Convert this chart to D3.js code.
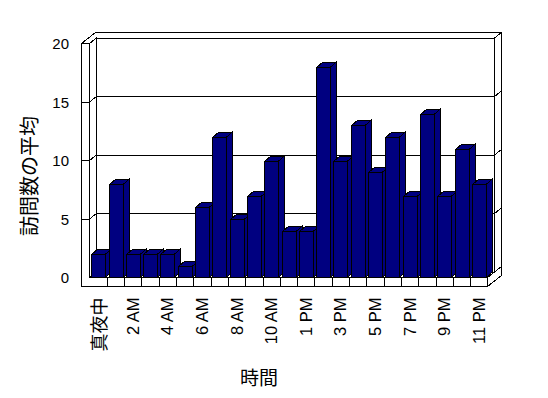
<!DOCTYPE html>
<html>
<head>
<meta charset="utf-8">
<script src="https://cdn.jsdelivr.net/npm/d3@7/dist/d3.min.js"></script>
<style>
	html, body { margin: 0; padding: 0; background: #fff; }
	svg { display: block; }
</style>
</head>
<body>
<div id="chart"></div>
<script>
	'use strict';

	////////// Data //////////
	const categories = ['真夜中', '1 AM', '2 AM', '3 AM', '4 AM', '5 AM', '6 AM', '7 AM', '8 AM', '9 AM', '10 AM', '11 AM',
		'1 PM', '2 PM', '3 PM', '4 PM', '5 PM', '6 PM', '7 PM', '8 PM', '9 PM', '10 PM', '11 PM'];
	const visits = [2, 8, 2, 2, 2, 1, 6, 12, 5, 7, 10, 4, 4, 18, 10, 13, 9, 12, 7, 14, 7, 11, 8];
	const yTicks = [0, 5, 10, 15, 20];
	const yTitle = '訪問数の平均';
	const xTitle = '時間';

	////////// Layout //////////
	const width = 548, height = 398;
	const wallLeft = 81.5;          // outer edge of left wall
	const plotLeft = 89.5, plotRight = 487.5;
	const yZero = 277.5, yMax = 43.5, floorBottom = 286.5;
	const depth = { x: 7, y: -5.5 };     // wall depth offset
	const barDepth = { x: 6.5, y: -5.5 };
	const barFill = '#000080';
	const latinFont = '"Liberation Sans", Arial, sans-serif';
	const cjkFont = '"Noto Sans CJK JP", sans-serif';

	const x = d3.scaleBand().domain(categories).range([plotLeft, plotRight]).padding(0);
	const y = d3.scaleLinear().domain([0, 20]).range([yZero, yMax]);
	const step = x.step();

	const svg = d3.select('#chart').append('svg')
		.attr('width', width)
		.attr('height', height)
		.style('shape-rendering', 'crispEdges');

	const pts = arr => arr.map(p => p.join(',')).join(' ');
	const poly = (g, arr) => g.append('polygon')
		.attr('points', pts(arr))
		.attr('fill', '#fff')
		.attr('stroke', '#000')
		.attr('stroke-width', 1);

	// ********************************* WALLS & FLOOR ********************************* //
	const frame = svg.append('g').attr('class', 'frame');
	const d1 = depth, d2 = { x: depth.x * 2, y: depth.y * 2 };

	// back wall front face
	poly(frame, [[plotLeft + d1.x, yMax + d1.y], [plotRight + d1.x, yMax + d1.y], [plotRight + d1.x, yZero + d1.y], [plotLeft + d1.x, yZero + d1.y]]);
	// floor right face
	poly(frame, [[plotRight, yZero], [plotRight + d2.x, yZero + d2.y], [plotRight + d2.x, floorBottom + d2.y], [plotRight, floorBottom]]);
	// back wall right edge
	poly(frame, [[plotRight + d1.x, yMax + d1.y], [plotRight + d2.x, yMax + d2.y], [plotRight + d2.x, yZero + d2.y], [plotRight + d1.x, yZero + d1.y]]);
	// top of left + back wall
	poly(frame, [[wallLeft, yMax], [wallLeft + d2.x, yMax + d2.y], [plotRight + d2.x, yMax + d2.y], [plotRight + d1.x, yMax + d1.y],
		[plotLeft + d1.x, yMax + d1.y], [plotLeft, yMax]]);
	// left wall inner face
	poly(frame, [[plotLeft, yMax], [plotLeft + d1.x, yMax + d1.y], [plotLeft + d1.x, yZero + d1.y], [plotLeft, yZero]]);
	// floor top face
	poly(frame, [[plotLeft, yZero], [plotRight, yZero], [plotRight + d1.x, yZero + d1.y], [plotLeft + d1.x, yZero + d1.y]]);
	// front L face (left wall edge + floor edge)
	poly(frame, [[wallLeft, yMax], [plotLeft, yMax], [plotLeft, yZero], [plotRight, yZero], [plotRight, floorBottom], [wallLeft, floorBottom]]);

	// gridlines
	const grid = frame.append('g').attr('stroke', '#000').attr('fill', 'none');
	yTicks.filter(v => v > 0 && v < 20).forEach(v => {
		const yy = y(v);
		grid.append('polyline').attr('points', pts([
			[wallLeft, yy], [plotLeft, yy], [plotLeft + d1.x, yy + d1.y], [plotRight + d1.x, yy + d1.y], [plotRight + d2.x, yy + d2.y]
		]));
	});

	// category ticks on floor front face
	categories.slice(1).forEach(c => {
		const xx = Math.round(x(c)) + 0.5;
		grid.append('line').attr('x1', xx).attr('x2', xx).attr('y1', yZero).attr('y2', floorBottom);
	});

	// ********************************* BARS ********************************* //
	const bars = svg.append('g').attr('class', 'bars');
	const bw = step * 0.8;
	categories.forEach((c, i) => {
		const v = visits[i];
		const l = Math.round(x(c) + step * 0.1) + 0.5;
		const r = Math.round(l + bw);
		const t = Math.round(y(v)) + 0.5;
		const b = yZero;
		const g = bars.append('g').attr('fill', barFill).attr('stroke', '#000');
		g.append('polygon').attr('points', pts([[r, t], [r + barDepth.x, t + barDepth.y], [r + barDepth.x, b + barDepth.y], [r, b]]));
		g.append('polygon').attr('points', pts([[l, t], [l + barDepth.x, t + barDepth.y], [r + barDepth.x, t + barDepth.y], [r, t]]));
		g.append('rect').attr('x', l).attr('y', t).attr('width', r - l).attr('height', b - t);
	});

	// ********************************* AXES TEXT ********************************* //
	const yLabels = svg.append('g').style('font', `15px ${latinFont}`).attr('fill', '#000');
	yTicks.forEach(v => {
		yLabels.append('text')
			.attr('x', 69)
			.attr('y', y(v))
			.attr('text-anchor', 'end')
			.attr('dominant-baseline', 'central')
			.text(v);
	});

	const xLabels = svg.append('g').attr('fill', '#000');
	categories.forEach((c, i) => {
		if (i % 2) return;
		const cjk = /[^\x00-\x7F]/.test(c);
		xLabels.append('text')
			.attr('transform', `translate(${x(c) + step / 2},297.5) rotate(-90)`)
			.attr('text-anchor', 'end')
			.attr('dominant-baseline', 'central')
			.style('font', cjk ? `18px ${cjkFont}` : `16.5px ${latinFont}`)
			.text(c);
	});

	svg.append('text')
		.attr('transform', 'translate(28,176) rotate(-90)')
		.attr('text-anchor', 'middle')
		.attr('dominant-baseline', 'central')
		.attr('fill', '#000')
		.style('font', `20px ${cjkFont}`)
		.text(yTitle);

	svg.append('text')
		.attr('x', 259)
		.attr('y', 376)
		.attr('text-anchor', 'middle')
		.attr('dominant-baseline', 'central')
		.attr('fill', '#000')
		.style('font', `19px ${cjkFont}`)
		.text(xTitle);
</script>
</body>
</html>
